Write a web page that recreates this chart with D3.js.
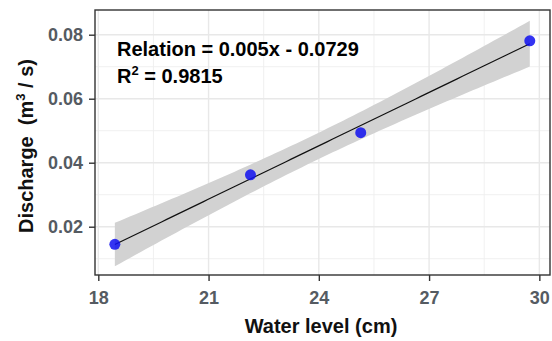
<!DOCTYPE html>
<html>
<head>
<meta charset="utf-8">
<script src="https://cdn.jsdelivr.net/npm/d3@7"></script>
<style>
  html, body { margin: 0; padding: 0; background: #fff; }
  svg { display: block; }
  text { font-family: "Liberation Sans", Arial, sans-serif; font-weight: bold; }
</style>
</head>
<body>
<svg id="chart" width="552" height="341"></svg>
<script>
// ---- data ----
const waterLevel = [18.45, 22.14, 25.14, 29.74];
const discharge  = [0.0145, 0.0362, 0.0494, 0.0781];
const xTicks = [18, 21, 24, 27, 30];
const yTicks = [0.02, 0.04, 0.06, 0.08];
const xMinor = [19.5, 22.5, 25.5, 28.5];
const yMinor = [0.01, 0.03, 0.05, 0.07];
const relationText = "Relation = 0.005x - 0.0729";
const r2Value = "0.9815";

// ---- layout ----
const panel = { left: 95, right: 550, top: 10, bottom: 275 };

const svg = d3.select("#chart");
const x = d3.scaleLinear().domain([17.91, 30.29]).range([panel.left, panel.right]);
const y = d3.scaleLinear().domain([0.00491, 0.08772]).range([panel.bottom, panel.top]);

// ---- linear model fit with 95% confidence band (as geom_smooth(method="lm")) ----
const n = waterLevel.length;
const xbar = d3.mean(waterLevel), ybar = d3.mean(discharge);
const Sxx = d3.sum(waterLevel, v => (v - xbar) ** 2);
const Sxy = d3.sum(waterLevel.map((v, i) => (v - xbar) * (discharge[i] - ybar)));
const slope = Sxy / Sxx, intercept = ybar - slope * xbar;
const sse = d3.sum(waterLevel.map((v, i) => (discharge[i] - (intercept + slope * v)) ** 2));
const s = Math.sqrt(sse / (n - 2));
const tCrit = 4.303; // t(0.975, df = 2)
const xMin = d3.min(waterLevel), xMax = d3.max(waterLevel);
const fitX = d3.range(0, 81).map(i => xMin + (xMax - xMin) * i / 80);
const fit = fitX.map(v => {
  const yh = intercept + slope * v;
  const se = s * Math.sqrt(1 / n + (v - xbar) ** 2 / Sxx);
  return { x: v, y: yh, lo: yh - tCrit * se, hi: yh + tCrit * se };
});

// ---- clip ----
svg.append("defs").append("clipPath").attr("id", "clip")
  .append("rect").attr("x", panel.left).attr("y", panel.top)
  .attr("width", panel.right - panel.left).attr("height", panel.bottom - panel.top);

// ---- grid ----
const grid = svg.append("g");
grid.selectAll(".vminor").data(xMinor).join("line")
  .attr("x1", d => x(d)).attr("x2", d => x(d))
  .attr("y1", panel.top).attr("y2", panel.bottom)
  .attr("stroke", "#EEEEEE").attr("stroke-width", 0.9);
grid.selectAll(".hminor").data(yMinor).join("line")
  .attr("y1", d => y(d)).attr("y2", d => y(d))
  .attr("x1", panel.left).attr("x2", panel.right)
  .attr("stroke", "#EEEEEE").attr("stroke-width", 0.9);
grid.selectAll(".vmajor").data(xTicks).join("line")
  .attr("x1", d => x(d)).attr("x2", d => x(d))
  .attr("y1", panel.top).attr("y2", panel.bottom)
  .attr("stroke", "#E8E8E8").attr("stroke-width", 1.4);
grid.selectAll(".hmajor").data(yTicks).join("line")
  .attr("y1", d => y(d)).attr("y2", d => y(d))
  .attr("x1", panel.left).attr("x2", panel.right)
  .attr("stroke", "#E8E8E8").attr("stroke-width", 1.4);

// ---- ribbon + line ----
const plot = svg.append("g").attr("clip-path", "url(#clip)");
plot.append("path").datum(fit)
  .attr("d", d3.area().x(d => x(d.x)).y0(d => y(d.lo)).y1(d => y(d.hi)))
  .attr("fill", "#D2D2D2");
plot.append("path").datum(fit)
  .attr("d", d3.line().x(d => x(d.x)).y(d => y(d.y)))
  .attr("fill", "none").attr("stroke", "#111").attr("stroke-width", 1.2);

// ---- points ----
plot.selectAll("circle").data(waterLevel.map((v, i) => [v, discharge[i]])).join("circle")
  .attr("cx", d => x(d[0])).attr("cy", d => y(d[1])).attr("r", 5.5)
  .attr("fill", "#1010F0").attr("fill-opacity", 0.85);

// ---- panel border ----
svg.append("rect").attr("x", panel.left).attr("y", panel.top)
  .attr("width", panel.right - panel.left).attr("height", panel.bottom - panel.top)
  .attr("fill", "none").attr("stroke", "#333").attr("stroke-width", 1.4);

// ---- axes ----
const tickColor = "#555B62";
const xAxis = svg.append("g").attr("transform", `translate(0,${panel.bottom})`)
  .call(d3.axisBottom(x).tickValues(xTicks).tickSize(6).tickPadding(10).tickFormat(d3.format("d")));
const yAxis = svg.append("g").attr("transform", `translate(${panel.left},0)`)
  .call(d3.axisLeft(y).tickValues(yTicks).tickSize(6).tickPadding(6).tickFormat(d3.format(".2f")));
[xAxis, yAxis].forEach(a => {
  a.select(".domain").remove();
  a.selectAll(".tick line").attr("stroke", "#333").attr("stroke-width", 1.4);
  a.selectAll(".tick text").attr("fill", tickColor)
    .style("font-family", "'Liberation Sans', Arial, sans-serif")
    .style("font-weight", "bold").style("font-size", "18px");
});

// ---- axis titles ----
svg.append("text").attr("x", 321).attr("y", 333).attr("text-anchor", "middle")
  .attr("fill", "#111").style("font-size", "20px").text("Water level (cm)");

const yt = svg.append("text")
  .attr("transform", "translate(33,146) rotate(-90)")
  .attr("text-anchor", "middle").attr("fill", "#111")
  .style("font-size", "20px").style("white-space", "pre");
yt.append("tspan").text("Discharge  (m");
yt.append("tspan").attr("dy", -8).style("font-size", "13px").text("3");
yt.append("tspan").attr("dy", 8).text(" / s)");

// ---- annotation ----
svg.append("text").attr("x", 117).attr("y", 56).attr("fill", "#000")
  .style("font-size", "20px").text(relationText);
const r2 = svg.append("text").attr("x", 117).attr("y", 83).attr("fill", "#000")
  .style("font-size", "20px");
r2.append("tspan").text("R");
r2.append("tspan").attr("dy", -8).style("font-size", "13px").text("2");
r2.append("tspan").attr("dy", 8).text(" = " + r2Value);
</script>
</body>
</html>
